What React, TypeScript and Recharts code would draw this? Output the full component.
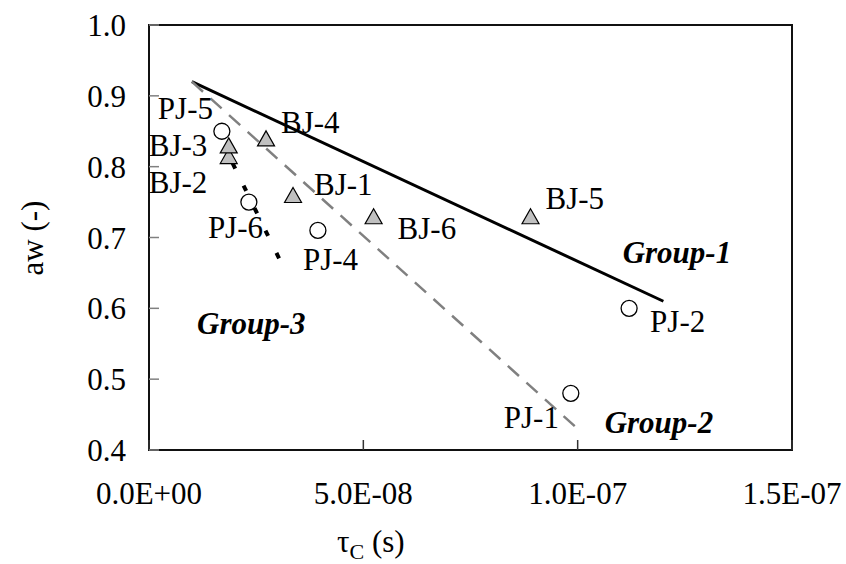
import {
  ScatterChart,
  Scatter,
  XAxis,
  YAxis,
  ReferenceArea,
} from "recharts";

const SERIF = '"Liberation Serif", "Times New Roman", serif';

// PJ joints (open circles)
const pjNames = ["PJ-1", "PJ-2", "PJ-4", "PJ-5", "PJ-6"];
const pjTau = [9.84e-8, 1.12e-7, 3.94e-8, 1.7e-8, 2.33e-8];
const pjAw = [0.48, 0.6, 0.71, 0.85, 0.75];

// BJ joints (grey triangles)
const bjNames = ["BJ-1", "BJ-2", "BJ-3", "BJ-4", "BJ-5", "BJ-6"];
const bjTau = [3.36e-8, 1.86e-8, 1.86e-8, 2.73e-8, 8.9e-8, 5.24e-8];
const bjAw = [0.76, 0.815, 0.83, 0.84, 0.73, 0.73];

// trend lines for the three groups
const group1Tau = [1.0e-8, 1.2e-7];
const group1Aw = [0.92, 0.61];
const group2Tau = [1.0e-8, 1.0e-7];
const group2Aw = [0.92, 0.43];
const group3Tau = [1.95e-8, 3.2e-8];
const group3Aw = [0.805, 0.65];

// group captions, anchored at the left end of their baseline
const groupNames = ["Group-1", "Group-2", "Group-3"];
const groupNoteTau = [1.105e-7, 1.063e-7, 1.12e-8];
const groupNoteAw = [0.664, 0.424, 0.564];

const xTicks = [0, 5e-8, 1e-7, 1.5e-7];
const yTicks = [0.4, 0.5, 0.6, 0.7, 0.8, 0.9, 1.0];

// where each point label sits relative to its marker (text start, baseline)
const labelOffsets: Record<string, [number, number]> = {
  "PJ-1": [-67, 35],
  "PJ-2": [21, 24],
  "PJ-4": [-15, 40],
  "PJ-5": [-64, -12],
  "PJ-6": [-41, 36],
  "BJ-1": [21, 0],
  "BJ-2": [-80, 37],
  "BJ-3": [-80, 11],
  "BJ-4": [15, -5],
  "BJ-5": [15, -7],
  "BJ-6": [24, 23],
};

const toPoints = (xs: number[], ys: number[], names?: string[]) =>
  xs.map((x, i) => ({ tau: x, aw: ys[i], name: names ? names[i] : "" }));

const pjData = toPoints(pjTau, pjAw, pjNames);
const bjData = toPoints(bjTau, bjAw, bjNames);
const group1 = toPoints(group1Tau, group1Aw);
const group2 = toPoints(group2Tau, group2Aw);
const group3 = toPoints(group3Tau, group3Aw);
const groupNotes = toPoints(groupNoteTau, groupNoteAw, groupNames);

const sci = (v: number) => {
  if (v === 0) return "0.0E+00";
  const e = Math.floor(Math.log10(Math.abs(v)) + 1e-9);
  const m = v / Math.pow(10, e);
  return `${m.toFixed(1)}E${e < 0 ? "-" : "+"}${String(Math.abs(e)).padStart(2, "0")}`;
};

const PointLabel = ({ cx, cy, name }: { cx: number; cy: number; name: string }) => {
  const [dx, dy] = labelOffsets[name] || [10, 0];
  return (
    <text x={cx + dx} y={cy + dy} fontFamily={SERIF} fontSize={31} fill="#000">
      {name}
    </text>
  );
};

const CircleMark = (props: any) => {
  const { cx, cy, payload } = props;
  return (
    <g>
      <circle cx={cx} cy={cy} r={8} fill="#fff" stroke="#000" strokeWidth={1.3} />
      <PointLabel cx={cx} cy={cy} name={payload.name} />
    </g>
  );
};

const TriangleMark = (props: any) => {
  const { cx, cy, payload } = props;
  const pts = `${cx},${cy - 7.5} ${cx + 8.5},${cy + 7.5} ${cx - 8.5},${cy + 7.5}`;
  return (
    <g>
      <polygon points={pts} fill="#c0c0c0" stroke="#000" strokeWidth={1.2} />
      <PointLabel cx={cx} cy={cy} name={payload.name} />
    </g>
  );
};

const NoMark = () => <g />;

const GroupNote = (props: any) => {
  const { cx, cy, payload } = props;
  return (
    <text
      x={cx}
      y={cy}
      fontFamily={SERIF}
      fontSize={31}
      fontWeight="bold"
      fontStyle="italic"
      fill="#000"
    >
      {payload.name}
    </text>
  );
};

const XTick = (props: any) => {
  const { x, y, payload } = props;
  return (
    <g>
      <line x1={x} y1={y} x2={x} y2={y - 10} stroke="#333" strokeWidth={1.5} />
      <text x={x} y={y + 54} textAnchor="middle" fontFamily={SERIF} fontSize={31} fill="#000">
        {sci(payload.value)}
      </text>
    </g>
  );
};

const YTick = (props: any) => {
  const { x, y, payload } = props;
  return (
    <g>
      <line x1={x} y1={y} x2={x + 10} y2={y} stroke="#808080" strokeWidth={1.5} />
      <text x={x - 23} y={y + 11} textAnchor="end" fontFamily={SERIF} fontSize={31} fill="#000">
        {payload.value.toFixed(1)}
      </text>
    </g>
  );
};

// axis title sits a little left of the plot centre, under the 5.0E-08 label
const XTitle = (props: any) => {
  const { viewBox } = props;
  const cx = viewBox.x + viewBox.width * 0.345;
  return (
    <text x={cx} y={552} textAnchor="middle" fontFamily={SERIF} fontSize={31} fill="#000">
      <tspan>τ</tspan>
      <tspan dy={7} fontSize={22}>C</tspan>
      <tspan dy={-7}> (s)</tspan>
    </text>
  );
};

const YTitle = () => (
  <text
    x={32}
    y={238}
    transform="rotate(-90, 32, 238)"
    textAnchor="middle"
    dominantBaseline="central"
    fontFamily={SERIF}
    fontSize={31}
    fill="#000"
  >
    aw (-)
  </text>
);

export default function App() {
  return (
    <div style={{ position: "absolute", left: 0, top: 0, background: "#fff" }}>
      <ScatterChart
        width={846}
        height={564}
        margin={{ top: 25, right: 54, bottom: 54, left: 0 }}
      >
        <XAxis
          type="number"
          dataKey="tau"
          domain={[0, 1.5e-7]}
          ticks={xTicks}
          interval={0}
          height={60}
          axisLine={false}
          tickLine={false}
          tickSize={0}
          tickMargin={0}
          tick={<XTick />}
          label={{ content: <XTitle /> }}
        />
        <YAxis
          type="number"
          dataKey="aw"
          domain={[0.4, 1.0]}
          ticks={yTicks}
          interval={0}
          width={149}
          axisLine={false}
          tickLine={false}
          tickSize={0}
          tickMargin={0}
          tick={<YTick />}
          label={{ content: <YTitle /> }}
        />
        <ReferenceArea
          x1={0}
          x2={1.5e-7}
          y1={0.4}
          y2={1.0}
          fill="none"
          fillOpacity={0}
          stroke="#111"
          strokeWidth={2}
        />
        <Scatter
          data={group1}
          line={{ stroke: "#000", strokeWidth: 3 }}
          lineType="joint"
          shape={NoMark}
          isAnimationActive={false}
        />
        <Scatter
          data={group2}
          line={{ stroke: "#808080", strokeWidth: 2.5, strokeDasharray: "15 10" }}
          lineType="joint"
          shape={NoMark}
          isAnimationActive={false}
        />
        <Scatter
          data={group3}
          line={{ stroke: "#000", strokeWidth: 4, strokeDasharray: "6 19" }}
          lineType="joint"
          shape={NoMark}
          isAnimationActive={false}
        />
        <Scatter data={pjData} shape={CircleMark} isAnimationActive={false} />
        <Scatter data={bjData} shape={TriangleMark} isAnimationActive={false} />
        <Scatter data={groupNotes} shape={GroupNote} isAnimationActive={false} />
      </ScatterChart>
    </div>
  );
}
